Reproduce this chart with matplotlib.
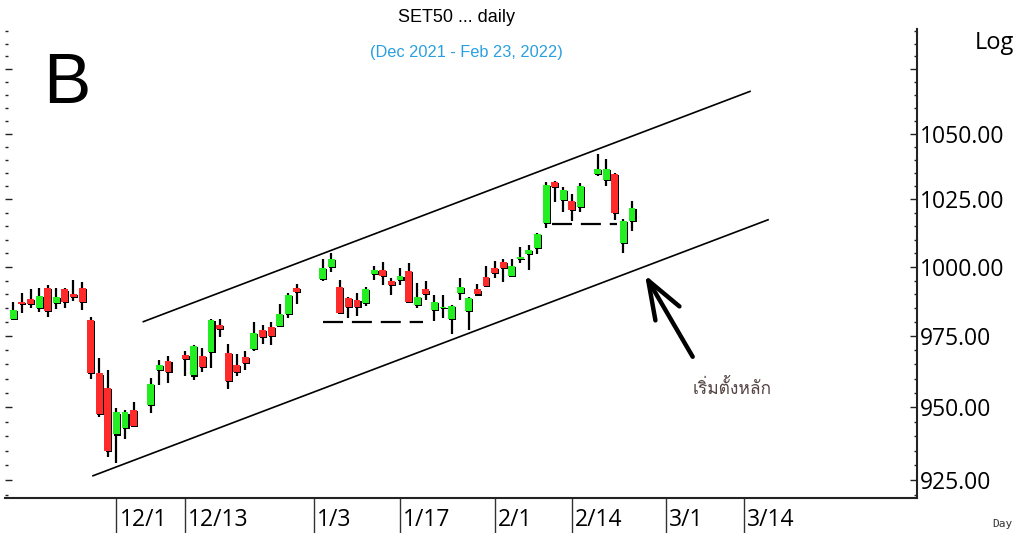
import matplotlib
matplotlib.use('Agg')
import matplotlib.pyplot as plt
import matplotlib.patheffects as pe
from matplotlib.ticker import FixedLocator, FuncFormatter, NullFormatter
from matplotlib.transforms import ScaledTranslation
from matplotlib import font_manager
from matplotlib.ft2font import FT2Font
import numpy as np
import pandas as pd

# SET50 daily candles (Nov 15, 2021 - Feb 23, 2022)
dates = ['2021-11-15', '2021-11-16', '2021-11-17', '2021-11-18', '2021-11-19',
         '2021-11-22', '2021-11-23', '2021-11-24', '2021-11-25', '2021-11-26',
         '2021-11-29', '2021-11-30', '2021-12-01', '2021-12-02', '2021-12-03',
         '2021-12-07', '2021-12-08', '2021-12-09', '2021-12-13', '2021-12-14',
         '2021-12-15', '2021-12-16', '2021-12-17', '2021-12-20', '2021-12-21',
         '2021-12-22', '2021-12-23', '2021-12-24', '2021-12-27', '2021-12-28',
         '2021-12-29', '2021-12-30', '2022-01-04', '2022-01-05', '2022-01-06',
         '2022-01-07', '2022-01-10', '2022-01-11', '2022-01-12', '2022-01-13',
         '2022-01-14', '2022-01-17', '2022-01-18', '2022-01-19', '2022-01-20',
         '2022-01-21', '2022-01-24', '2022-01-25', '2022-01-26', '2022-01-27',
         '2022-01-28', '2022-01-31', '2022-02-01', '2022-02-02', '2022-02-03',
         '2022-02-04', '2022-02-07', '2022-02-08', '2022-02-09', '2022-02-10',
         '2022-02-11', '2022-02-14', '2022-02-15', '2022-02-17', '2022-02-18',
         '2022-02-21', '2022-02-22', '2022-02-23']
opens = [981.1, 987.2, 988.4, 985.0, 992.2, 987.0, 991.8, 990.1, 992.2, 980.8,
         961.8, 956.6, 940.6, 942.7, 949.2, 950.8, 963.2, 966.2, 968.3, 961.1,
         968.0, 969.3, 978.9, 969.1, 964.8, 967.5, 970.5, 977.2, 978.2, 978.7,
         982.9, 992.2, 995.5, 1000.1, 992.8, 988.6, 987.9, 986.8, 997.3, 998.9,
         994.8, 995.2, 998.6, 986.2, 991.8, 984.4, 985.0, 981.1, 990.4, 984.0,
         991.8, 996.4, 999.8, 1001.9, 996.7, 1002.8, 1004.9, 1007.1, 1016.1, 1031.7,
         1024.8, 1024.5, 1022.3, 1034.6, 1032.3, 1034.5, 1008.9, 1016.9]
highs = [987.2, 990.4, 991.8, 992.2, 993.4, 992.4, 992.2, 995.2, 994.4, 982.0,
         967.1, 963.2, 949.6, 949.0, 951.7, 960.1, 966.7, 967.9, 969.8, 971.8,
         970.7, 981.1, 981.1, 972.2, 968.7, 969.8, 980.0, 979.0, 980.2, 986.6,
         990.4, 993.8, 1003.1, 1005.0, 995.2, 989.2, 990.6, 992.8, 1000.4, 1001.7,
         996.0, 999.5, 1001.3, 994.0, 994.8, 989.8, 989.8, 986.2, 995.8, 989.2,
         993.9, 1000.2, 1002.1, 1003.0, 1003.1, 1007.5, 1008.0, 1012.4, 1031.5, 1032.0,
         1029.8, 1026.9, 1031.3, 1042.2, 1040.2, 1034.9, 1017.6, 1024.5]
lows = [981.0, 983.2, 985.0, 983.8, 982.0, 984.7, 985.0, 987.6, 984.4, 959.9,
        946.7, 932.9, 930.7, 939.2, 943.3, 948.1, 957.7, 958.3, 961.0, 959.5,
        962.4, 963.6, 974.6, 956.4, 961.0, 963.2, 969.7, 972.2, 971.9, 978.4,
        981.4, 986.6, 994.8, 998.1, 983.0, 981.4, 982.4, 985.9, 995.2, 993.6,
        989.8, 993.6, 987.2, 985.0, 988.0, 980.5, 981.4, 975.7, 988.0, 977.2,
        989.6, 992.7, 995.9, 994.5, 996.4, 1001.3, 998.9, 1004.9, 1014.2, 1024.2,
        1020.4, 1016.9, 1020.2, 1033.8, 1030.0, 1017.3, 1005.1, 1013.3]
closes = [984.4, 986.5, 986.5, 989.5, 984.2, 989.2, 987.2, 989.0, 987.4, 962.0,
          947.8, 934.9, 948.2, 948.2, 943.4, 958.1, 964.7, 962.2, 966.8, 971.5,
          964.0, 980.8, 977.7, 959.3, 962.4, 965.4, 976.2, 974.8, 975.1, 983.0,
          989.8, 990.8, 999.7, 1002.9, 983.4, 985.6, 985.6, 991.9, 998.9, 996.8,
          993.6, 996.8, 987.4, 989.2, 990.1, 987.4, 985.4, 985.8, 992.6, 988.8,
          990.0, 993.2, 997.9, 999.8, 1000.4, 1003.5, 1006.4, 1012.0, 1030.4, 1029.8,
          1028.5, 1021.0, 1030.1, 1036.4, 1036.4, 1019.8, 1016.9, 1021.9]

tick_dates = ['2021-12-01', '2021-12-13', '2022-01-03', '2022-01-17',
              '2022-02-01', '2022-02-14', '2022-03-01', '2022-03-14']
tick_labels = ['12/1', '12/13', '1/3', '1/17', '2/1', '2/14', '3/1', '3/14']
price_ticks = [925, 950, 975, 1000, 1025, 1050, 1075]

# trend channel and support lines (bar index, price)
upper_line = ([15.13, 85.73], [980.2, 1066.3])
lower_line = ([9.27, 87.83], [926.5, 1017.4])
support_low = ([36.08, 47.71], [980.2, 980.2])
support_high = ([62.66, 70.22], [1015.9, 1015.9])

green = '#22ee22'
red = '#ff2b2b'

# pick a font that has Thai glyphs
thai_font = 'DejaVu Sans'
for f in font_manager.fontManager.ttflist:
    try:
        if ord('ก') in FT2Font(f.fname).get_charmap():
            thai_font = f.name
            break
    except Exception:
        pass

plt.rcParams['font.family'] = ['Open Sans', 'DejaVu Sans']

bdays = pd.bdate_range('2021-11-15', '2022-03-31')
x = bdays.get_indexer(pd.to_datetime(dates))
o = np.array(opens)
h = np.array(highs)
l = np.array(lows)
c = np.array(closes)
colors = np.where(c >= o, green, red)

fig = plt.figure(figsize=(10.16, 5.33), dpi=100)
ax = fig.add_axes([5 / 1016, 1 - 498.3 / 533, 911.7 / 1016, 469.3 / 533])
ax.set_yscale('log')

ax.vlines(x, l, h, color='black', lw=1.6, zorder=2)
ax.bar(x, np.abs(c - o), bottom=np.minimum(o, c), width=0.8, color=colors,
       zorder=3, linewidth=0,
       path_effects=[pe.SimplePatchShadow(offset=(0.8, -0.8), shadow_rgbFace='black', alpha=1),
                     pe.Normal()])

ax.plot(*upper_line, color='black', lw=1.2)
ax.plot(*lower_line, color='black', lw=1.2)
ax.plot(*support_low, color='black', lw=1.6, ls=(0, (9, 4)))
ax.plot(*support_high, color='black', lw=1.6, ls=(0, (9, 4)))

ax.annotate('', xy=(73.51, 997.1), xytext=(79.06, 967.7),
            arrowprops=dict(arrowstyle='->,head_length=1.37,head_width=0.5',
                            lw=3.2, color='black', mutation_scale=20,
                            shrinkA=0, shrinkB=0))
ax.text(79.06, 956.7, 'เริ่มตั้งหลัก', fontsize=12.5, color='#554444',
        family=[thai_font, 'DejaVu Sans'], va='center', ha='left')

ax.set_xlim(-0.97, 105.13)
ax.set_ylim(918.9, 1090.9)

for side in ['left', 'top']:
    ax.spines[side].set_visible(False)
for side in ['right', 'bottom']:
    ax.spines[side].set_linewidth(1.5)
    ax.spines[side].set_color('#222222')

ax.yaxis.set_major_locator(FixedLocator(price_ticks))
ax.yaxis.set_minor_locator(FixedLocator(np.arange(920, 1091, 5)))
ax.yaxis.set_major_formatter(FuncFormatter(lambda v, p: '' if v > 1060 else f'{v:.2f}'))
ax.yaxis.set_minor_formatter(NullFormatter())
ax.tick_params(axis='y', which='both', left=True, right=True, labelleft=False,
               labelright=True, direction='in', color='#222222', width=1,
               labelsize=16.5, pad=2)
ax.tick_params(axis='y', which='major', length=4.7)
ax.tick_params(axis='y', which='minor', length=2.4)

ax.set_xticks(bdays.get_indexer(pd.to_datetime(tick_dates)))
ax.set_xticklabels(tick_labels)
ax.tick_params(axis='x', length=26, width=1, color='#333333', direction='out',
               pad=-19, labelsize=16.5)
shift = ScaledTranslation(0.03, 0, fig.dpi_scale_trans)
for lab in ax.get_xticklabels():
    lab.set_horizontalalignment('left')
    lab.set_transform(lab.get_transform() + shift)

fig.text(43 / 1016, 1 - 103 / 533, 'B', fontsize=51, family='Liberation Sans',
         va='baseline', ha='left')
fig.text(456.5 / 1016, 1 - 18 / 533, 'SET50 ... daily', fontsize=13,
         family='Liberation Sans', ha='center', va='center')
fig.text(466.5 / 1016, 1 - 52 / 533, '(Dec 2021 - Feb 23, 2022)', fontsize=11.8,
         family='Liberation Sans', color='#2a9fe0', ha='center', va='center')
fig.text(1014 / 1016, 1 - 43 / 533, 'Log', fontsize=17, ha='right', va='center')
fig.text(992 / 1016, 1 - 524 / 533, 'Day', fontsize=8, family='DejaVu Sans Mono',
         color='#333333', ha='left', va='center')

fig.savefig('out.png', dpi=100)
